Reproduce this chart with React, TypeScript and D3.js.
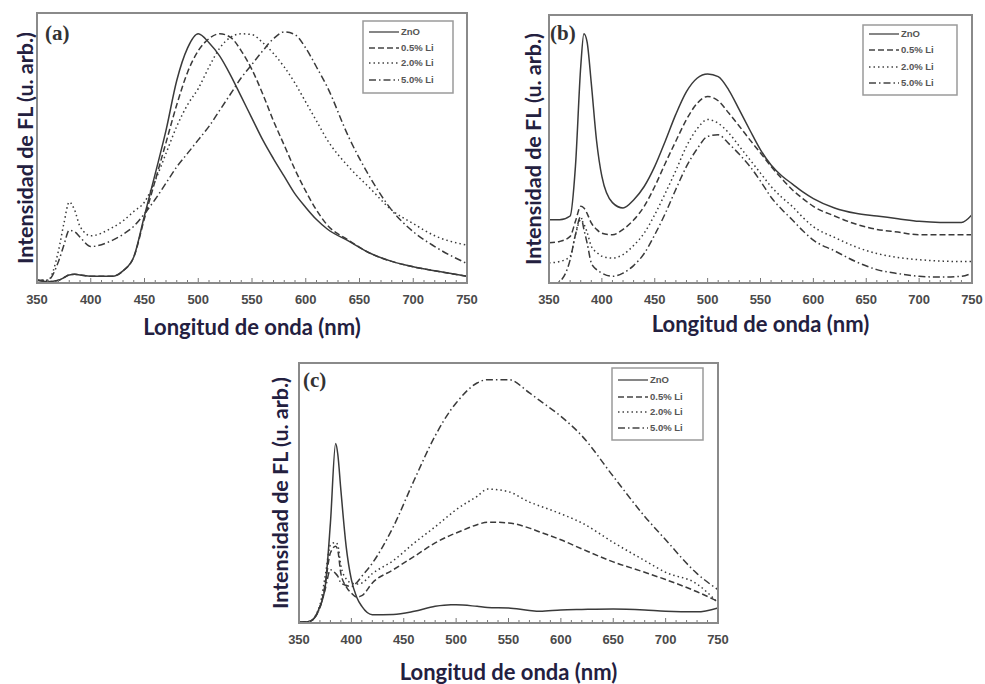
import React from "react";
import * as d3 from "d3";

// wavelength grids (nm), one per panel
const wlA = [350, 360, 370, 375, 380, 385, 390, 400, 420, 430, 440, 450, 460, 470, 480, 490, 500, 510, 520, 530, 540, 550, 560, 570, 580, 590, 600, 610, 620, 640, 660, 680, 700, 720, 750];
const aZnO = [1, 0.5, 1, 2, 3, 3.2, 3, 2.5, 2.5, 4.5, 9.6, 25, 40.5, 56.5, 75, 87, 92.3, 89, 84, 77, 69, 61, 53, 46, 39.5, 33, 28, 23.5, 20, 15.5, 11, 8, 6, 4.5, 2.5];
const aLi05 = [1, 0.5, 1, 2, 3, 3.2, 3, 2.5, 2.5, 4.5, 9.6, 24, 38, 52, 66, 78, 86, 90.5, 92.3, 91, 86, 79, 70, 60, 51, 42, 34, 27, 21.5, 15.8, 11, 8, 6, 4.5, 2.5];
const aLi20 = [1, 1, 12, 22, 30, 27, 21, 17.5, 20.5, 23, 26.5, 30, 38, 48, 58, 66, 72, 80, 87, 91, 92.3, 92, 89, 85, 80, 74, 67, 60, 53, 43, 35, 27, 22, 17.5, 14];
const aLi50 = [1, 1, 8, 14, 19.5, 19, 17, 13.5, 15.8, 18, 21, 25.7, 31, 37, 43, 48, 53, 58, 64, 70, 76, 81, 86, 90.5, 93, 92, 87, 80, 72.6, 54, 39, 27, 19, 13.5, 7.2];

const wlB = [350, 360, 370, 375, 380, 383, 386, 390, 395, 400, 410, 420, 430, 440, 450, 460, 470, 480, 490, 500, 510, 520, 530, 540, 550, 560, 570, 580, 590, 600, 620, 640, 660, 680, 700, 720, 740, 750];
const bZnO = [23.6, 23.6, 25, 43.5, 80.7, 93, 90, 74.5, 53, 39.8, 30, 28, 31, 36, 43.5, 53, 63, 71.4, 76.4, 78, 77, 72, 64.6, 57, 49.7, 44, 40, 37, 34, 31.5, 28, 26, 25, 24, 23, 22.6, 22.6, 25.5];
const bLi05 = [15, 15.5, 17.4, 23, 28.6, 28, 26, 22.4, 20, 18.6, 18, 20, 23.5, 28.6, 36, 44.7, 53, 61, 67, 69.6, 68, 63.4, 58.5, 53.4, 48.5, 43.5, 39, 34.8, 31.5, 28.6, 25, 22, 20, 19, 18, 18, 18, 18];
const bLi20 = [7.5, 8, 10, 18, 23.6, 22, 19, 13.7, 11.5, 10, 9.3, 10.6, 14, 18.6, 25.5, 33.5, 42, 51, 57.5, 61, 59.6, 56, 51, 46, 41, 36, 32, 28.6, 24.5, 21, 17, 13.5, 11, 9.5, 8.7, 8.2, 8, 8];
const bLi50 = [-1, 0.5, 8.7, 18, 24.8, 20, 15, 7.5, 5, 3.7, 2.5, 3.7, 6.5, 11, 18, 26, 35, 43.5, 50, 54.7, 55.3, 52, 48, 43.5, 38, 32, 27.5, 23.6, 19.5, 16, 12, 8, 5, 3.5, 2.5, 2.2, 2.5, 3.7];

const wlC = [350, 360, 370, 375, 380, 385, 387, 390, 395, 400, 405, 410, 420, 440, 460, 480, 495, 500, 520, 530, 550, 570, 580, 600, 620, 650, 680, 700, 730, 750];
const cZnO = [0.3, 0.6, 6.4, 14, 38.5, 69, 65, 51, 29.5, 16.7, 10, 6.4, 3.2, 3.3, 4.5, 6.4, 7, 7, 6.4, 6, 5.8, 4.8, 4.5, 5, 5.2, 5.4, 5, 4.5, 4.3, 5.8];
const cLi05 = [0.3, 0.6, 6, 15, 27, 29.5, 28, 19, 14, 11.5, 10, 10.5, 15.4, 20.5, 25.6, 30.8, 33.8, 34.6, 37.8, 38.8, 38.5, 36.5, 35, 32, 28.5, 23.5, 19.5, 16.7, 12, 8.3];
const cLi20 = [0.3, 0.6, 7, 18, 30, 31, 30, 22, 17, 15.4, 15, 15.4, 19, 24, 30.8, 37, 42, 43.6, 48.7, 51.5, 50.5, 46.5, 45, 42, 38.5, 31, 24, 19.5, 15, 7.7];
const cLi50 = [0.3, 0.6, 6, 13, 20.5, 19, 18, 15.4, 14.5, 14, 15.5, 18, 23, 37, 55, 72, 82, 84.6, 92.3, 93.6, 93.6, 88.5, 85.5, 79.5, 72, 56.4, 41, 32, 19, 12.8];

const seriesNames = ["ZnO", "0.5% Li", "2.0% Li", "5.0% Li"];
const xTicks = [350, 400, 450, 500, 550, 600, 650, 700, 750];
const xTitle = "Longitud de onda (nm)";
const yTitle = "Intensidad de FL (u. arb.)";

const dashes = [null, "6,3", "1.5,3", "7,3,1.5,3"];

type PanelProps = {
  label: string;
  left: number; top: number; right: number; bottom: number;
  wl: number[];
  series: number[][];
  legend: { x: number; y: number; w: number; h: number; rows: number[] };
  yTitleX: number;
  xTitleY: number;
  labelPos: number[];
  clipId: string;
};

const Panel = ({ label, left, top, right, bottom, wl, series, legend, yTitleX, xTitleY, labelPos, clipId }: PanelProps) => {
  const x = d3.scaleLinear().domain([350, 750]).range([left, right]);
  const y = d3.scaleLinear().domain([0, 100]).range([bottom, top]);
  const line = d3
    .line<number>()
    .x((d, i) => x(wl[i]))
    .y((d) => y(d))
    .curve(d3.curveMonotoneX);
  const minor = d3.range(350, 751, 10);
  return (
    <g>
      <defs>
        <clipPath id={clipId}>
          <rect x={left} y={top} width={right - left} height={bottom - top} />
        </clipPath>
      </defs>
      <g clipPath={`url(#${clipId})`}>
        {series.map((s, k) => (
          <path key={k} d={line(s) || ""} fill="none" stroke="#3a3a3a" strokeWidth={1.5}
            strokeDasharray={dashes[k] || undefined} />
        ))}
      </g>
      {minor.map((t) => (
        <line key={t} x1={x(t)} x2={x(t)} y1={bottom} y2={bottom - (t % 50 === 0 ? 5 : 3)} stroke="#777" strokeWidth={1} />
      ))}
      <rect x={left} y={top} width={right - left} height={bottom - top} fill="none" stroke="#8a8a8a" strokeWidth={2} />
      {xTicks.map((t) => (
        <text key={t} x={x(t)} y={bottom + 21} textAnchor="middle" fontFamily="Liberation Sans, Arial" fontSize={13}
          fontWeight="bold" fill="#4a4a4a">{t}</text>
      ))}
      <text x={(left + right) / 2} y={xTitleY} textAnchor="middle" fontFamily="Lato" fontWeight="bold" fontSize={22}
        fill="#23203f">{xTitle}</text>
      <text transform={`translate(${yTitleX},${(top + bottom) / 2}) rotate(-90)`} textAnchor="middle" dy="0.35em"
        fontFamily="Lato" fontWeight="bold" fontSize={21.5} fill="#23203f">{yTitle}</text>
      <text x={labelPos[0]} y={labelPos[1]} fontFamily="Liberation Serif, serif" fontWeight="bold" fontSize={21} fill="#333">{label}</text>
      <rect x={legend.x} y={legend.y} width={legend.w} height={legend.h} fill="#fff" stroke="#9a9a9a" strokeWidth={1.5} />
      {seriesNames.map((n, k) => (
        <g key={n}>
          <line x1={legend.x + 6} x2={legend.x + 36} y1={legend.rows[k]} y2={legend.rows[k]} stroke="#444"
            strokeWidth={1.3} strokeDasharray={dashes[k] || undefined} />
          <text x={legend.x + 38} y={legend.rows[k]} dy="0.35em" fontFamily="Liberation Sans, Arial" fontWeight="bold"
            fontSize={9.5} fill="#555">{n}</text>
        </g>
      ))}
    </g>
  );
};

export default function App() {
  return (
    <svg width={985} height={684} style={{ position: "absolute", left: 0, top: 0, background: "#fff" }}>
      <Panel label="(a)" left={37} top={13} right={467} bottom={283} wl={wlA} series={[aZnO, aLi05, aLi20, aLi50]}
        legend={{ x: 363, y: 21, w: 90, h: 72, rows: [32, 48, 63, 80] }} yTitleX={25} xTitleY={335} labelPos={[45, 40]} clipId="ca" />
      <Panel label="(b)" left={549} top={15} right={972} bottom={283} wl={wlB} series={[bZnO, bLi05, bLi20, bLi50]}
        legend={{ x: 863, y: 25, w: 94, h: 70, rows: [34, 50, 67, 83] }} yTitleX={533} xTitleY={332} labelPos={[550, 40]} clipId="cb" />
      <Panel label="(c)" left={299} top={363} right={718} bottom={623} wl={wlC} series={[cZnO, cLi05, cLi20, cLi50]}
        legend={{ x: 612, y: 368, w: 91, h: 72, rows: [380, 397, 412, 428] }} yTitleX={280} xTitleY={680} labelPos={[303, 387]} clipId="cc" />
    </svg>
  );
}
